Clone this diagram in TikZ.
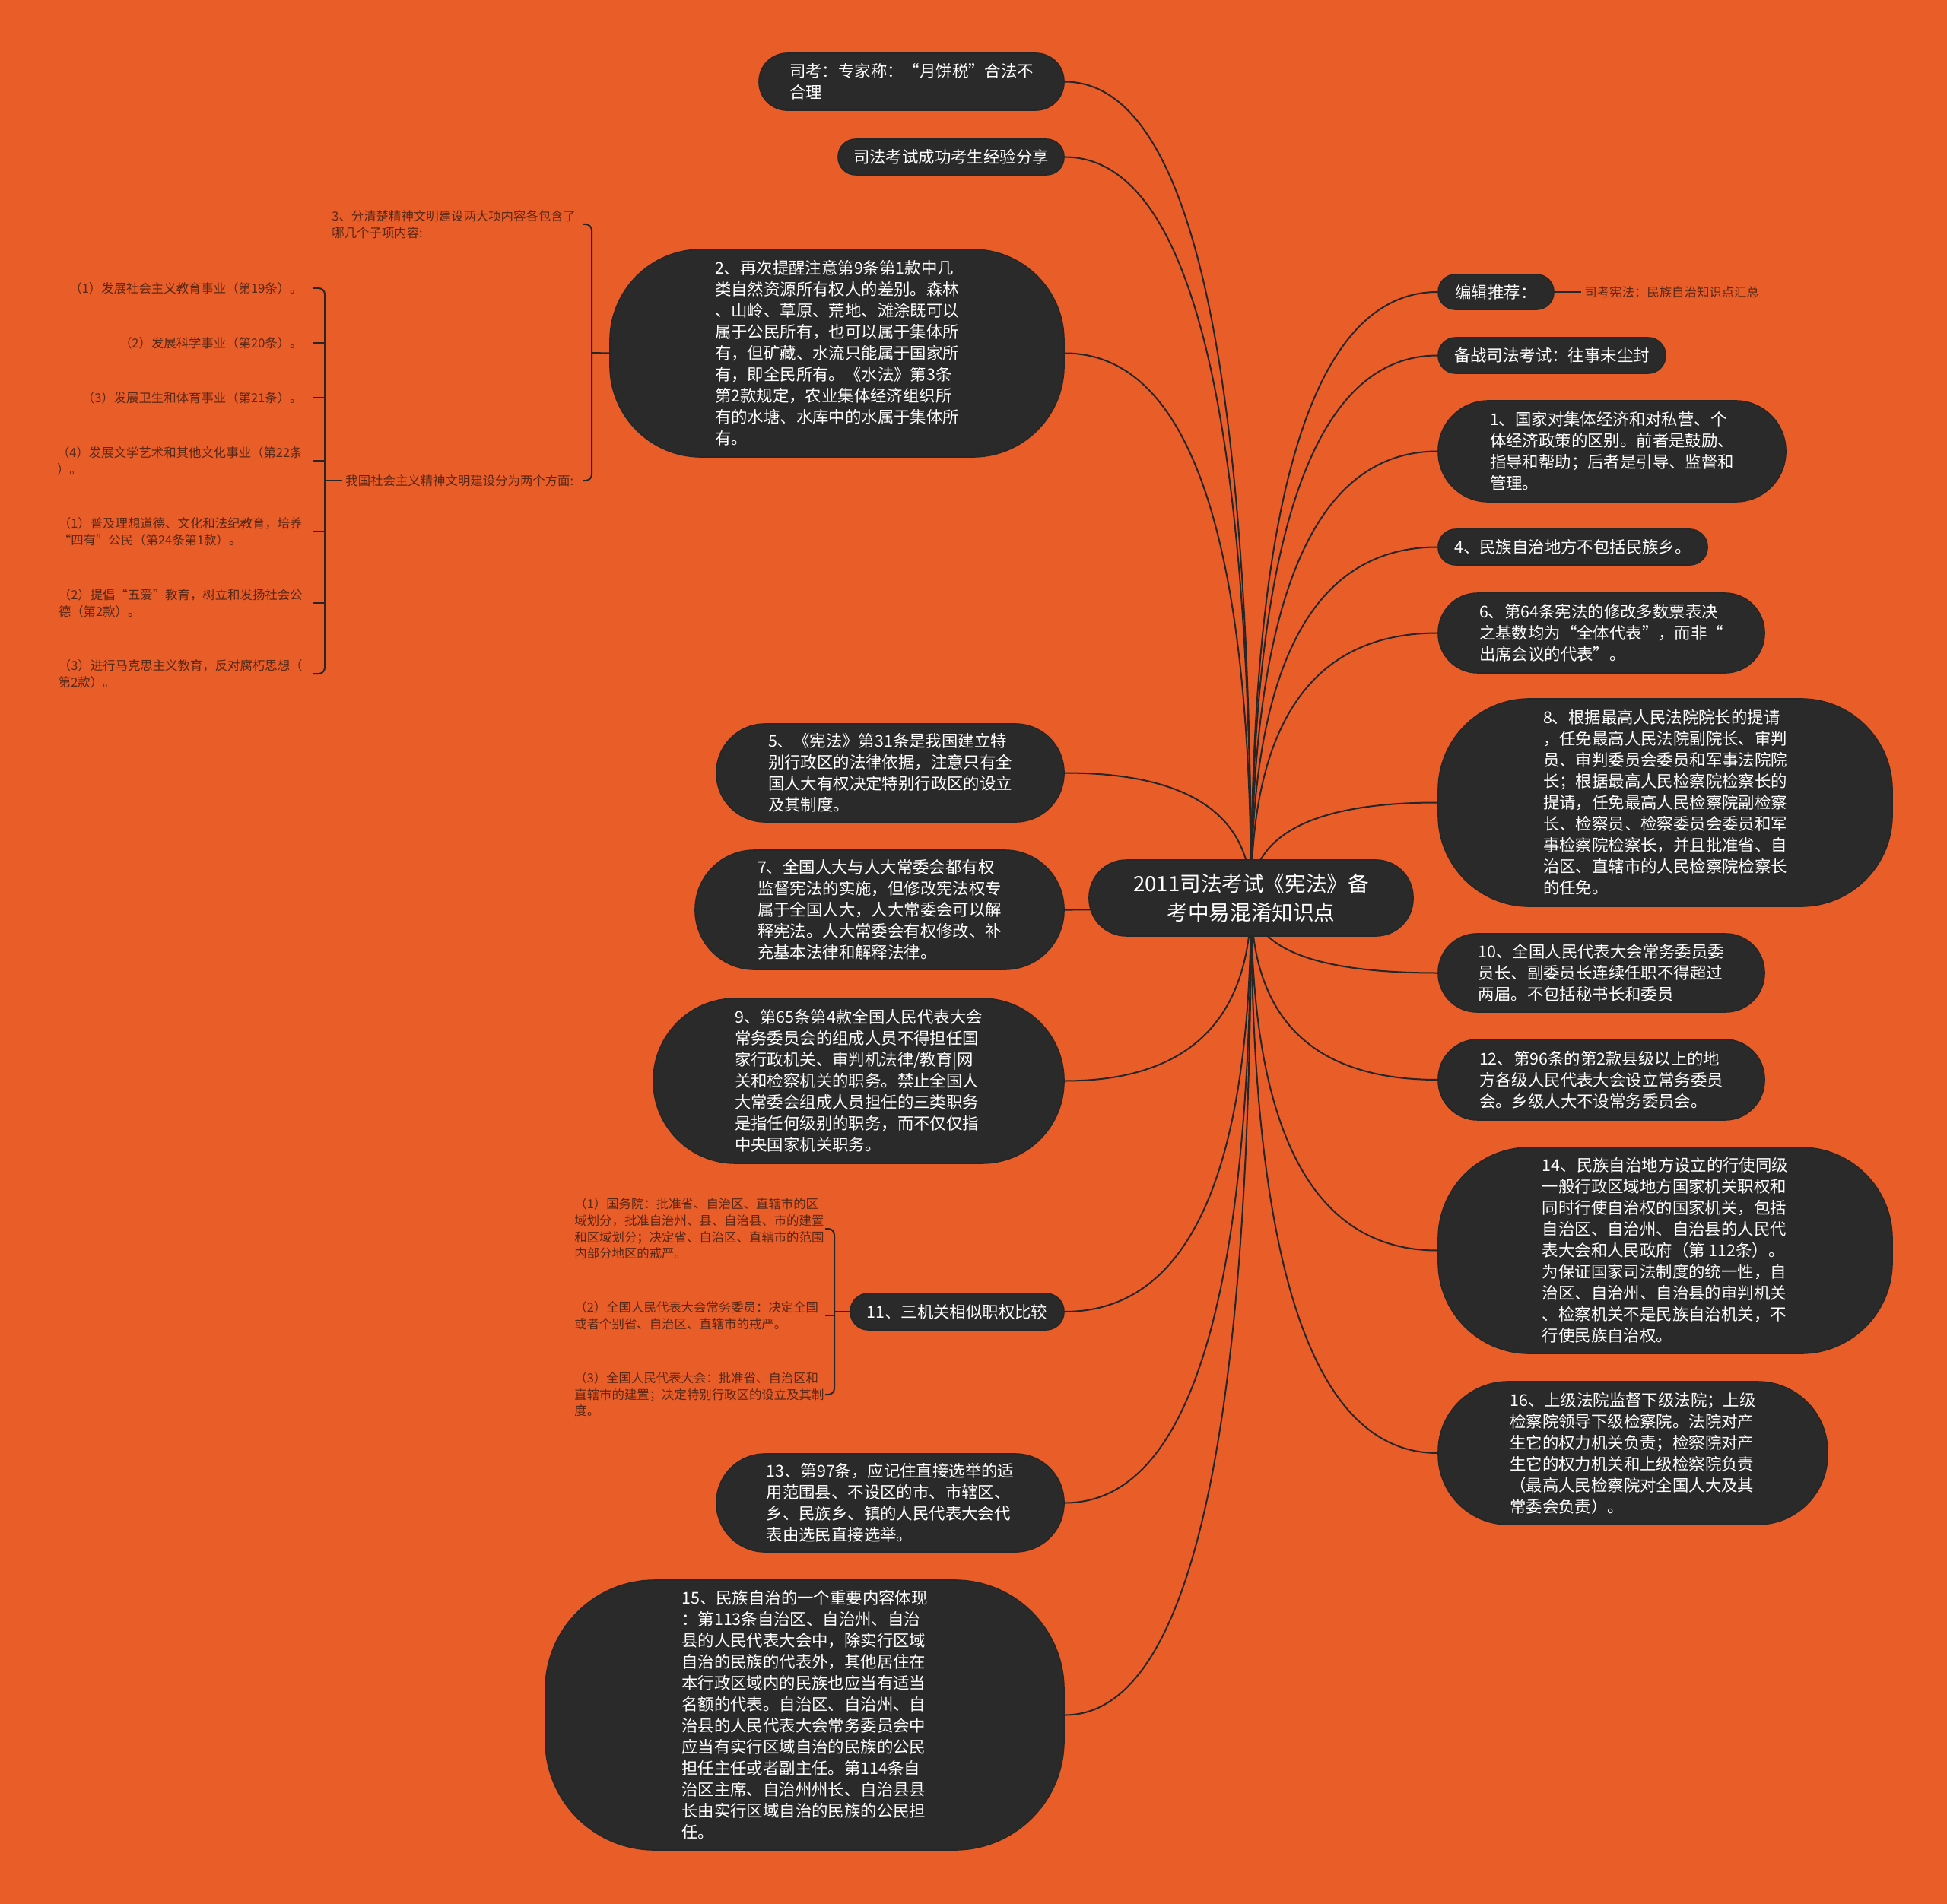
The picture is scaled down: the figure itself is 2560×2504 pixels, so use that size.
\documentclass[tikz,border=0pt]{standalone}
\usepackage{fontspec}
\setmainfont{Noto Sans CJK SC}
\usetikzlibrary{calc}
\definecolor{bgc}{RGB}{233,93,40}
\definecolor{boxc}{RGB}{42,42,42}
\definecolor{linec}{RGB}{38,38,38}
\definecolor{smallc}{RGB}{88,40,22}
\pgfdeclarelayer{bgfill}
\pgfdeclarelayer{lines}
\pgfsetlayers{bgfill,lines,main}
\tikzset{
  mbox/.style={fill=boxc, draw=black!85, line width=0.8pt, text=white, align=left,
    inner sep=0pt, font=\fontsize{10.7}{14}\selectfont},
  rootbox/.style={mbox, align=center, font=\fontsize{13.8}{18.8}\selectfont},
  conn/.style={draw=linec, line width=1pt},
  brk/.style={draw=linec, line width=1pt, rounded corners=4pt},
  small/.style={text=smallc, align=left, inner sep=2pt, font=\fontsize{8.2}{10.8}\selectfont}
}
\newcommand\linkto[1]{%
  \coordinate (kk) at (root.center |- #1);
  \draw[conn] (root.center) .. controls ($(root.center)!0.6667!(kk)$) and ($(#1)!0.6667!(kk)$) .. (#1);}
\begin{document}
\begin{tikzpicture}[x=0.5pt, y=-0.5pt]
\useasboundingbox (0,0) rectangle (2560,2504);
\begin{pgfonlayer}{bgfill}
\fill[bgc] (0,0) rectangle (2560,2504);
\end{pgfonlayer}

% root
\node[rootbox, minimum width=213pt, minimum height=50pt, rounded corners=24.5pt] (root) at (1645,1181)
  {2011司法考试《宪法》备\\考中易混淆知识点};

% left nodes
\node[mbox, minimum width=200.5pt, minimum height=37.5pt, rounded corners=18.5pt] (L1) at (1198.5,107.5)
  {司考：专家称：“月饼税”合法不\\合理};
\node[mbox, minimum width=148.5pt, minimum height=23.5pt, rounded corners=11.5pt] (L2) at (1250.5,206.5)
  {司法考试成功考生经验分享};
\node[mbox, minimum width=298.5pt, minimum height=136.5pt, rounded corners=60pt] (N2) at (1100.5,464.5)
  {2、再次提醒注意第9条第1款中几\\类自然资源所有权人的差别。森林\\、山岭、草原、荒地、滩涂既可以\\属于公民所有，也可以属于集体所\\有，但矿藏、水流只能属于国家所\\有，即全民所有。《水法》第3条\\第2款规定，农业集体经济组织所\\有的水塘、水库中的水属于集体所\\有。};
\node[mbox, minimum width=228.5pt, minimum height=64.5pt, rounded corners=32pt] (L4) at (1170.5,1016.5)
  {5、《宪法》第31条是我国建立特\\别行政区的法律依据，注意只有全\\国人大有权决定特别行政区的设立\\及其制度。};
\node[mbox, minimum width=242.5pt, minimum height=78.5pt, rounded corners=39pt] (L5) at (1156.5,1196.5)
  {7、全国人大与人大常委会都有权\\监督宪法的实施，但修改宪法权专\\属于全国人大，人大常委会可以解\\释宪法。人大常委会有权修改、补\\充基本法律和解释法律。};
\node[mbox, minimum width=270pt, minimum height=108.5pt, rounded corners=54pt] (L6) at (1129,1421.5)
  {9、第65条第4款全国人民代表大会\\常务委员会的组成人员不得担任国\\家行政机关、审判机法律/教育|网\\关和检察机关的职务。禁止全国人\\大常委会组成人员担任的三类职务\\是指任何级别的职务，而不仅仅指\\中央国家机关职务。};
\node[mbox, minimum width=140.5pt, minimum height=24pt, rounded corners=11.8pt] (L7) at (1258.5,1725)
  {11、三机关相似职权比较};
\node[mbox, minimum width=228.5pt, minimum height=64.5pt, rounded corners=32pt] (L8) at (1170.5,1976.5)
  {13、第97条，应记住直接选举的适\\用范围县、不设区的市、市辖区、\\乡、民族乡、镇的人民代表大会代\\表由选民直接选举。};
\node[mbox, minimum width=341pt, minimum height=177.5pt, rounded corners=72pt] (L9) at (1058,2255.5)
  {15、民族自治的一个重要内容体现\\：第113条自治区、自治州、自治\\县的人民代表大会中，除实行区域\\自治的民族的代表外，其他居住在\\本行政区域内的民族也应当有适当\\名额的代表。自治区、自治州、自\\治县的人民代表大会常务委员会中\\应当有实行区域自治的民族的公民\\担任主任或者副主任。第114条自\\治区主席、自治州州长、自治县县\\长由实行区域自治的民族的公民担\\任。};

% right nodes
\node[mbox, minimum width=76pt, minimum height=23pt, rounded corners=11.3pt] (R1) at (1967,384)
  {编辑推荐：};
\node[mbox, minimum width=149.5pt, minimum height=23.5pt, rounded corners=11.5pt] (R2) at (2040.5,467.5)
  {备战司法考试：往事未尘封};
\node[mbox, minimum width=228.5pt, minimum height=66.5pt, rounded corners=33pt] (R3) at (2119.5,593.5)
  {1、国家对集体经济和对私营、个\\体经济政策的区别。前者是鼓励、\\指导和帮助；后者是引导、监督和\\管理。};
\node[mbox, minimum width=177pt, minimum height=23.5pt, rounded corners=11.5pt] (R4) at (2068,719.5)
  {4、民族自治地方不包括民族乡。};
\node[mbox, minimum width=214.5pt, minimum height=52.5pt, rounded corners=26pt] (R5) at (2105.5,832.5)
  {6、第64条宪法的修改多数票表决\\之基数均为“全体代表”，而非“\\出席会议的代表”。};
\node[mbox, minimum width=298.5pt, minimum height=136.5pt, rounded corners=60pt] (R6) at (2189.5,1055.5)
  {8、根据最高人民法院院长的提请\\，任免最高人民法院副院长、审判\\员、审判委员会委员和军事法院院\\长；根据最高人民检察院检察长的\\提请，任免最高人民检察院副检察\\长、检察员、检察委员会委员和军\\事检察院检察长，并且批准省、自\\治区、直辖市的人民检察院检察长\\的任免。};
\node[mbox, minimum width=214.5pt, minimum height=51.5pt, rounded corners=25.5pt] (R7) at (2105.5,1279.5)
  {10、全国人民代表大会常务委员委\\员长、副委员长连续任职不得超过\\两届。不包括秘书长和委员};
\node[mbox, minimum width=214.5pt, minimum height=53pt, rounded corners=26pt] (R8) at (2105.5,1420)
  {12、第96条的第2款县级以上的地\\方各级人民代表大会设立常务委员\\会。乡级人大不设常务委员会。};
\node[mbox, minimum width=298.5pt, minimum height=135.5pt, rounded corners=60pt] (R9) at (2189.5,1644.5)
  {14、民族自治地方设立的行使同级\\一般行政区域地方国家机关职权和\\同时行使自治权的国家机关，包括\\自治区、自治州、自治县的人民代\\表大会和人民政府（第 112条）。\\为保证国家司法制度的统一性，自\\治区、自治州、自治县的审判机关\\、检察机关不是民族自治机关，不\\行使民族自治权。};
\node[mbox, minimum width=256pt, minimum height=94pt, rounded corners=46pt] (R10) at (2147,1911)
  {16、上级法院监督下级法院；上级\\检察院领导下级检察院。法院对产\\生它的权力机关负责；检察院对产\\生它的权力机关和上级检察院负责\\（最高人民检察院对全国人大及其\\常委会负责）。};

% small texts
\node[small, anchor=west] (S1) at (2079,384) {司考宪法：民族自治知识点汇总};
\node[small, anchor=west] (T3) at (432,295) {3、分清楚精神文明建设两大项内容各包含了\\哪几个子项内容:};
\node[small, anchor=west] (T4) at (450,632) {我国社会主义精神文明建设分为两个方面:};
\node[small, anchor=east] (c1) at (402,379) {（1）发展社会主义教育事业（第19条）。};
\node[small, anchor=east] (c2) at (402,451) {（2）发展科学事业（第20条）。};
\node[small, anchor=east] (c3) at (402,523) {（3）发展卫生和体育事业（第21条）。};
\node[small, anchor=east] (c4) at (402,606) {（4）发展文学艺术和其他文化事业（第22条\\）。};
\node[small, anchor=east] (c5) at (402,699) {（1）普及理想道德、文化和法纪教育，培养\\“四有”公民（第24条第1款）。};
\node[small, anchor=east] (c6) at (402,793) {（2）提倡“五爱”教育，树立和发扬社会公\\德（第2款）。};
\node[small, anchor=east] (c7) at (402,886) {（3）进行马克思主义教育，反对腐朽思想（\\第2款）。};
\node[small, anchor=west] (d1) at (751,1616) {（1）国务院：批准省、自治区、直辖市的区\\域划分，批准自治州、县、自治县、市的建置\\和区域划分；决定省、自治区、直辖市的范围\\内部分地区的戒严。};
\node[small, anchor=west] (d2) at (751,1730) {（2）全国人民代表大会常务委员：决定全国\\或者个别省、自治区、直辖市的戒严。};
\node[small, anchor=west] (d3) at (751,1834) {（3）全国人民代表大会：批准省、自治区和\\直辖市的建置；决定特别行政区的设立及其制\\度。};

\coordinate (b1) at (778,464);
\coordinate (b2) at (427,632);
\coordinate (b3) at (1097,1725);

\begin{pgfonlayer}{lines}
\linkto{L1.east}
\linkto{L2.east}
\linkto{N2.east}
\linkto{L4.east}
\linkto{L5.east}
\linkto{L6.east}
\linkto{L7.east}
\linkto{L8.east}
\linkto{L9.east}
\linkto{R1.west}
\linkto{R2.west}
\linkto{R3.west}
\linkto{R4.west}
\linkto{R5.west}
\linkto{R6.west}
\linkto{R7.west}
\linkto{R8.west}
\linkto{R9.west}
\linkto{R10.west}
\draw[conn] (R1.east) -- (S1.west);
% bracket of node 2
\draw[brk] ($(T3.east -| b1)+(-12,0)$) -- (T3.east -| b1) -- (T4.east -| b1) -- ($(T4.east -| b1)+(-12,0)$);
\draw[conn] (b1) -- (N2.west);
% bracket of T4
\draw[brk] ($(c1.east -| b2)+(-16,0)$) -- (c1.east -| b2) -- (c7.east -| b2) -- ($(c7.east -| b2)+(-16,0)$);
\foreach \c in {c2,c3,c4,c5,c6}{\draw[brk] ($(\c.east -| b2)+(-16,0)$) -- (\c.east -| b2);}
\draw[conn] (b2) -- (T4.west);
% bracket of L7
\draw[brk] ($(d1.east -| b3)+(-12,0)$) -- (d1.east -| b3) -- (d3.east -| b3) -- ($(d3.east -| b3)+(-12,0)$);
\draw[brk] ($(d2.east -| b3)+(-12,0)$) -- (d2.east -| b3);
\draw[conn] (b3) -- (L7.west);
\end{pgfonlayer}
\end{tikzpicture}
\end{document}
